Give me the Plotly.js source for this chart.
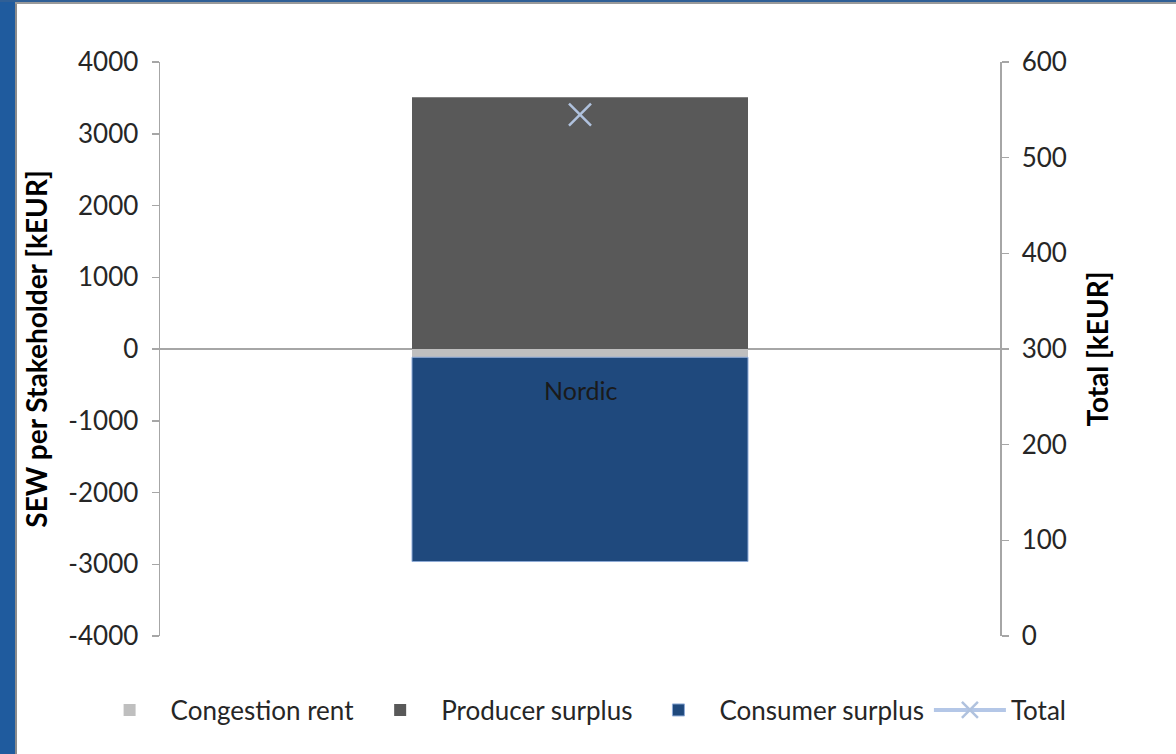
<!DOCTYPE html>
<html>
<head>
<meta charset="utf-8">
<script src="https://cdn.plot.ly/plotly-3.0.1.min.js"></script>
<style>
  html, body { margin: 0; padding: 0; background: #ffffff; }
  #wrap { position: relative; width: 1176px; height: 754px; overflow: hidden; }
  #chart { position: absolute; left: 0; top: 0; width: 1176px; height: 754px; }
  .frame { position: absolute; pointer-events: none; }
</style>
</head>
<body>
<div id="wrap">
  <div id="chart"></div>
  <div class="frame" style="left:0;top:0;width:15px;height:754px;background:#1f5b9e;"></div>
  <div class="frame" style="left:15px;top:4px;width:2px;height:750px;background:#8c8c8c;"></div>
  <div class="frame" style="left:0;top:0;width:1176px;height:2px;background:#2f5f96;"></div>
  <div class="frame" style="left:15px;top:2px;width:1161px;height:2px;background:#9a9a9a;"></div>
</div>
<script>
// ---- data ----
const categories = ["Nordic"];
const congestionRent = [-115];
const producerSurplus = [3510];
const consumerSurplus = [-2847];
const total = [545];
const leftTicks = [-4000, -3000, -2000, -1000, 0, 1000, 2000, 3000, 4000];
const rightTicks = [0, 100, 200, 300, 400, 500, 600];

const FONT = "Lato, 'Open Sans', sans-serif";
const TXT = "#262626";
const AXC = "#a6a6a6";

const traces = [
  { type: "bar", name: "Congestion rent", x: categories, y: congestionRent,
    marker: { color: "#bfbfbf" }, width: 0.4, hoverinfo: "name+y" },
  { type: "bar", name: "Producer surplus", x: categories, y: producerSurplus,
    marker: { color: "#595959" }, width: 0.4, hoverinfo: "name+y" },
  { type: "bar", name: "Consumer surplus", x: categories, y: consumerSurplus,
    marker: { color: "#1f497d", line: { color: "#8eaad6", width: 1 } }, width: 0.4, hoverinfo: "name+y" },
  { type: "scatter", mode: "lines+markers", name: "Total", x: categories, y: total, yaxis: "y2",
    line: { color: "#b4c7e7", width: 4 },
    marker: { symbol: "x-thin", size: 22, color: "#b0c2de", line: { color: "#b0c2de", width: 2.5 } } }
];

const layout = {
  width: 1176, height: 754,
  paper_bgcolor: "#ffffff", plot_bgcolor: "#ffffff",
  margin: { l: 160, r: 176, t: 62, b: 118 },
  barmode: "relative",
  font: { family: FONT, size: 26, color: TXT },
  showlegend: true,
  legend: {
    orientation: "h", xref: "paper", yref: "paper",
    x: -0.085, xanchor: "left", y: -0.129, yanchor: "middle",
    font: { family: FONT, size: 26, color: TXT },
    traceorder: "normal", itemwidth: 72, tracegroupgap: 0
  },
  xaxis: {
    type: "category", showticklabels: false, showline: false, showgrid: false,
    ticks: "", zeroline: false, fixedrange: true
  },
  yaxis: {
    range: [-4000, 4000], tickvals: leftTicks, ticktext: leftTicks.map(String),
    showgrid: false, zeroline: true, zerolinecolor: AXC, zerolinewidth: 1.5,
    showline: true, linecolor: AXC, linewidth: 1.5,
    ticks: "outside", ticklen: 7, tickcolor: AXC, tickwidth: 1.5,
    ticklabelstandoff: 8,
    tickfont: { family: FONT, size: 26, color: TXT },
    title: { text: "<b>SEW per Stakeholder [kEUR]</b>", standoff: 12,
             font: { family: FONT, size: 28, color: "#000000" } }
  },
  yaxis2: {
    overlaying: "y", side: "right", range: [0, 600],
    tickvals: rightTicks, ticktext: rightTicks.map(String),
    showgrid: false, zeroline: false,
    showline: true, linecolor: AXC, linewidth: 1.5,
    ticks: "outside", ticklen: 7, tickcolor: AXC, tickwidth: 1.5,
    ticklabelstandoff: 8,
    tickfont: { family: FONT, size: 26, color: TXT },
    title: { text: "<b>Total [kEUR]</b>", standoff: 22,
             font: { family: FONT, size: 28, color: "#000000" } }
  },
  annotations: categories.map(c => ({
    x: c, y: 0, xref: "x", yref: "y", text: c, showarrow: false,
    yshift: -41, font: { family: FONT, size: 25, color: "#1a1a1a" }
  }))
};

Plotly.newPlot("chart", traces, layout, { displayModeBar: false, staticPlot: true });
</script>
</body>
</html>
